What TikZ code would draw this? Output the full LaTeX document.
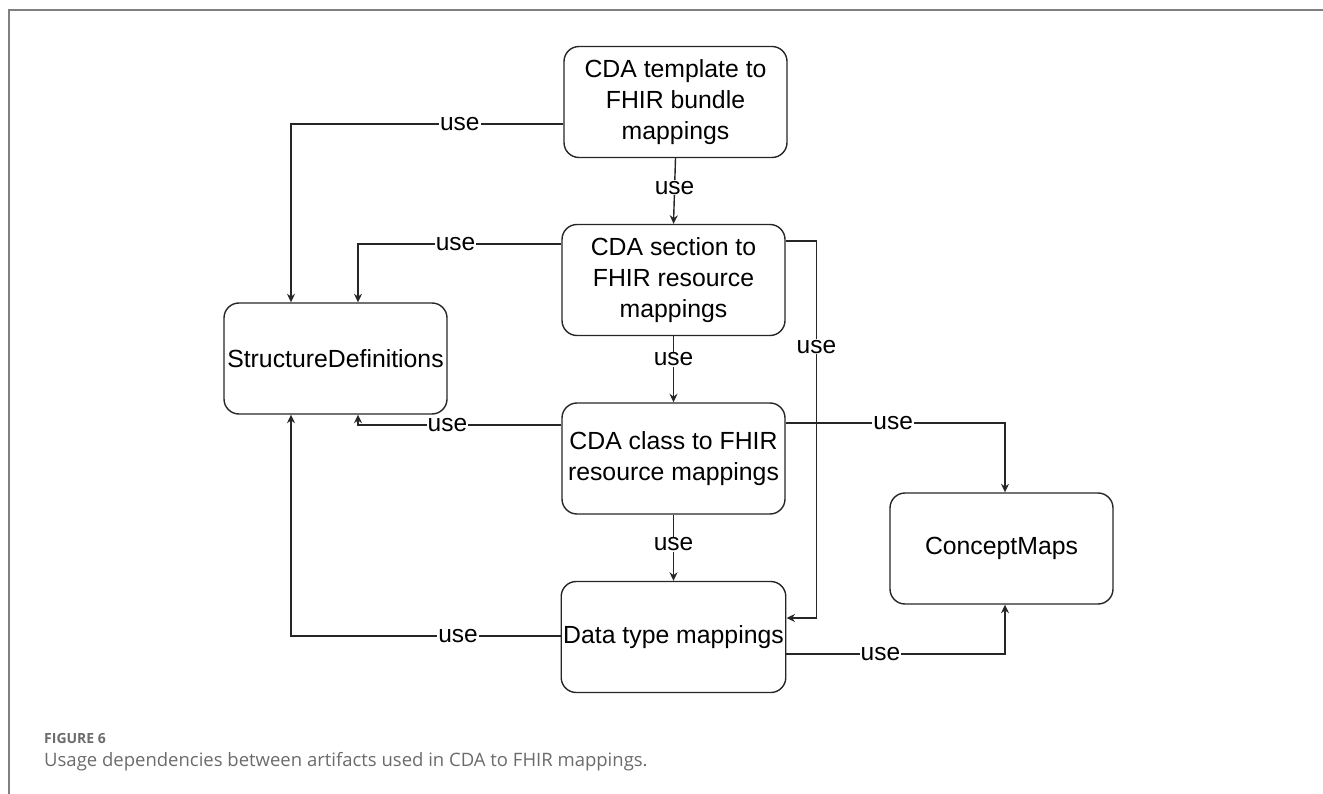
\documentclass[tikz,border=0pt]{standalone}
\usepackage{fontspec}
\setmainfont{Liberation Sans}
\newfontfamily\capfont{Open Sans}
\usetikzlibrary{arrows.meta}

\begin{document}
\begin{tikzpicture}[x=1pt,y=-1pt,
    artifact/.style={draw=black!85,line width=1.4pt,rounded corners=15pt,
      minimum width=223pt,minimum height=111pt,align=center,inner sep=2pt,
      font=\fontsize{24.8}{31}\selectfont},
    uses/.style={draw=black!85,line width=1.4pt,-{Stealth[length=8.5pt,width=8pt]}},
    lbl/.style={fill=white,inner sep=1pt,font=\fontsize{24.5}{28}\selectfont}]
  \useasboundingbox (0,0) rectangle (1323,794);
  % Frame of the figure
  \draw[black!50,line width=1.5pt] (9,794) -- (9,10) -- (1323,10);

  % Artifacts
  \node[artifact] (tmpl) at (675.5,102) {CDA template to\\FHIR bundle\\mappings};
  \node[artifact] (sect) at (673.5,280) {CDA section to\\FHIR resource\\mappings};
  \node[artifact] (sd)   at (335.5,358.5) {StructureDefinitions};
  \node[artifact] (cls)  at (673.5,458.5) {CDA class to FHIR\\resource mappings};
  \node[artifact] (dt)   at (673.5,637) {Data type mappings};
  \node[artifact] (cm)   at (1001.5,548.5) {ConceptMaps};

  % Usage dependencies
  \draw[uses] ([yshift=-22pt]tmpl.west) -| node[lbl,pos=0.19]{use} ([xshift=-44.5pt]sd.north);
  \draw[uses] (tmpl.south) -- node[lbl,pos=0.45]{use} (sect.north);
  \draw[uses] ([yshift=36pt]sect.west) -| node[lbl,pos=0.26]{use} ([xshift=22.5pt]sd.north);
  \draw[uses] ([yshift=39pt]sect.east) -| node[lbl,pos=0.64]{use} ([xshift=30pt,yshift=19pt]dt.east)
    -- ([yshift=19pt]dt.east);
  \draw[uses] (sect.south) -- node[lbl,pos=0.35]{use} (cls.north);
  \draw[uses] ([yshift=33.5pt]cls.west) -| node[lbl,pos=0.28]{use} ([xshift=22.5pt]sd.south);
  \draw[uses] ([yshift=35.5pt]cls.east) -| node[lbl,pos=0.245]{use} ([xshift=3.5pt]cm.north);
  \draw[uses] (cls.south) -- node[lbl,pos=0.45]{use} (dt.north);
  \draw[uses] ([yshift=1pt]dt.west) -| node[lbl,pos=0.19]{use} ([xshift=-44.5pt]sd.south);
  \draw[uses] ([yshift=-17pt]dt.east) -| node[lbl,pos=0.215]{use} ([xshift=3.5pt]cm.south);

  % Caption
  \node[anchor=base west,inner sep=0pt,text=black!58,font=\capfont\bfseries\fontsize{14}{16}\selectfont]
    (fig) at (44,743) {FIGURE 6};
  \node[anchor=base west,inner sep=0pt,text=black!58,font=\capfont\fontsize{18.5}{22}\selectfont]
    (cap) at (44,766) {Usage dependencies between artifacts used in CDA to FHIR mappings.};
\end{tikzpicture}
\end{document}
